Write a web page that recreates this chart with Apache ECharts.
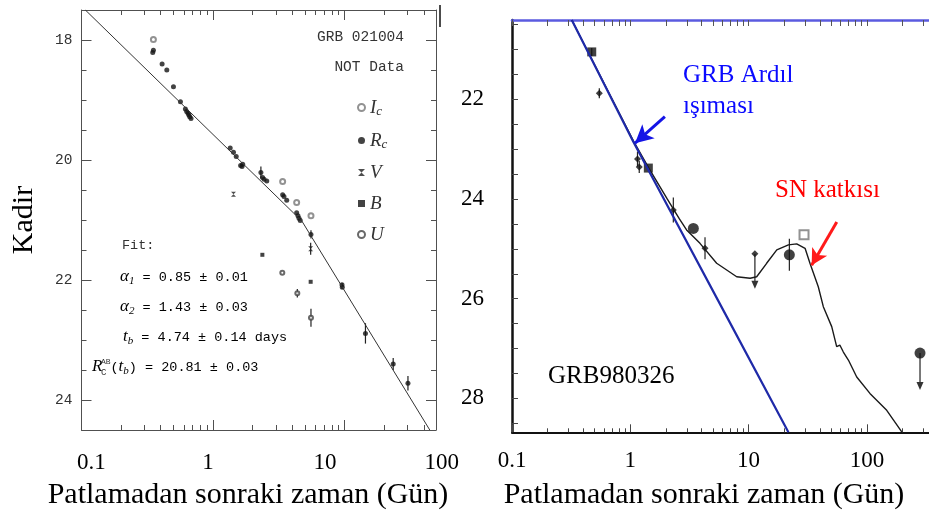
<!DOCTYPE html>
<html>
<head>
<meta charset="utf-8">
<script src="https://cdn.jsdelivr.net/npm/echarts@6/dist/echarts.min.js"></script>
<style>
  html, body { margin: 0; padding: 0; background: #fff; }
  #chart { width: 929px; height: 510px; }
</style>
</head>
<body>
<div id="chart"></div>
<script>
// ---------- GRB 021004, NOT photometry (time in days, magnitude) ----------
const rcT   = [0.348, 0.352, 0.41, 0.445, 0.50, 0.565, 0.616, 0.63, 0.645, 0.655, 0.665, 0.68,
               1.35, 1.43, 1.50, 1.62, 1.66, 1.68, 2.31, 2.38, 2.44, 2.56, 3.38, 3.46, 3.63,
               4.32, 4.42, 4.50, 4.60, 5.55, 9.55, 9.60, 14.4, 23.4, 30.3];
const rcMag = [18.21, 18.17, 18.40, 18.50, 18.78, 19.03, 19.15, 19.19, 19.22, 19.25, 19.28, 19.31,
               19.80, 19.87, 19.94, 20.09, 20.11, 20.07, 20.21, 20.29, 20.32, 20.35, 20.58, 20.61, 20.67,
               20.88, 20.93, 20.97, 21.01, 21.24, 22.08, 22.12, 22.89, 23.40, 23.72];
const icT   = [0.352, 3.38, 4.32, 5.55];
const icMag = [17.99, 20.36, 20.71, 20.93];
const vT    = [1.43, 5.52];
const vMag  = [20.57, 21.48];
const bT    = [2.37, 5.52];
const bMag  = [21.58, 22.03];
const uT    = [3.36, 4.37, 5.55];
const uMag  = [21.88, 22.22, 22.63];
// vertical error bars: time, magnitude, half-length
const errT021   = [2.31, 5.55, 5.52, 4.37, 5.55, 9.57, 14.4, 23.4, 30.3];
const errMag021 = [20.21, 21.24, 21.48, 22.22, 22.63, 22.10, 22.89, 23.40, 23.72];
const errLen021 = [0.10, 0.07, 0.10, 0.07, 0.15, 0.05, 0.17, 0.10, 0.12];
// broken power-law fit
const fitT   = [0.107, 4.74, 44.4];
const fitMag = [17.5, 21.02, 24.5];

// ---------- GRB 980326 ----------
const afterglowT   = [0.32, 1.06, 6.53, 21.7];
const afterglowMag = [20.41, 22.85, 26.36, 28.68];
const totalT   = [0.32, 1.07, 1.45, 2.05, 2.6, 2.99, 3.88, 5.37, 7.93, 10.3, 11.7, 14.2, 17.3, 21.7,
                  25.5, 30.0, 33.0, 38.8, 42.8, 50.4, 55.5, 59.0, 63.2, 69.7, 82, 106, 147, 197];
const totalMag = [20.41, 22.85, 23.40, 24.00, 24.40, 24.62, 24.89, 25.29, 25.56, 25.59, 25.56, 25.29, 25.02, 24.92,
                  24.90, 24.99, 25.29, 25.76, 26.16, 26.56, 26.96, 26.93, 27.07, 27.23, 27.57, 27.90, 28.24, 28.67];
const sqT      = [0.472, 1.42];
const sqMag    = [21.05, 23.38];
const dotT     = [3.41, 22.1, 281];
const dotMag   = [24.59, 25.12, 27.09];
const smallT   = [0.547, 1.15, 1.19, 2.31, 4.28, 11.3];
const smallMag = [21.88, 23.20, 23.36, 24.22, 24.99, 25.10];
const openT    = [29.4];
const openMag  = [24.72];
const errT980   = [0.472, 0.547, 1.15, 1.19, 2.31, 4.28, 22.1];
const errMag980 = [21.05, 21.88, 23.20, 23.36, 24.22, 24.99, 25.12];
const errLen980 = [0.08, 0.10, 0.15, 0.12, 0.25, 0.22, 0.32];
const limT      = [11.3, 281];
const limMag    = [25.10, 27.09];
const limTo     = [25.80, 27.83];
// annotation arrows: [time, magnitude] of tail and head
const arrowAfterglow = [[1.96, 22.35], [1.096, 22.88]];
const arrowSN        = [[55.6, 24.46], [34.1, 25.33]];

// axis tick labels
const timeLabels = ['0.1', '1', '10', '100'];
const magLabels021 = [18, 20, 22, 24];
const magLabels980 = [22, 24, 26, 28];

const L10 = Math.log10;
const SERIF = '"Liberation Serif", "Times New Roman", serif';
const MONO = '"Liberation Mono", "Courier New", monospace';
const pts = (ts, ms) => ts.map((t, i) => [L10(t), ms[i]]);
const errPts = (ts, ms, es) => ts.map((t, i) => [L10(t), ms[i], es[i]]);

// log-decade tick positions (in log10 days)
function decadeTicks(lo, hi) {
  const minor = [], major = [];
  for (let d = -2; d <= 3; d++) {
    const base = Math.pow(10, d);
    if (base >= lo * 0.999 && base <= hi) major.push(d);
    for (let k = 2; k <= 9; k++) {
      const v = k * base;
      if (v >= lo && v <= hi) minor.push(L10(v));
    }
  }
  return { minor, major };
}
function stepValues(a, b, s) { const out = []; for (let v = a; v <= b + 1e-9; v += s) out.push(+v.toFixed(3)); return out; }

const leftTicks = decadeTicks(0.1, 49.5);
const rightTicks = decadeTicks(0.1, 348);
const LXMIN = -1, LXMAX = L10(49.5);
const RXMIN = -1, RXMAX = L10(348);

function baseAxis(extra) {
  return Object.assign({
    type: 'value',
    axisLine: { show: false, onZero: false },
    axisTick: { show: false },
    axisLabel: { show: false },
    splitLine: { show: false }
  }, extra);
}
function tickSet(values, len, color, width) {
  return { show: true, inside: true, length: len, customValues: values, lineStyle: { color: color, width: width || 1 } };
}
const GRAY = '#505050';

const xAxis = [
  // left panel, bottom frame
  baseAxis({ gridIndex: 0, position: 'bottom', min: LXMIN, max: LXMAX,
    axisLine: { show: true, onZero: false, lineStyle: { color: GRAY, width: 1 } },
    axisTick: tickSet(leftTicks.minor, 5, GRAY) }),
  baseAxis({ gridIndex: 0, position: 'bottom', min: LXMIN, max: LXMAX,
    axisTick: tickSet(leftTicks.major, 10, GRAY) }),
  // left panel, top frame
  baseAxis({ gridIndex: 0, position: 'top', min: LXMIN, max: LXMAX,
    axisLine: { show: true, onZero: false, lineStyle: { color: GRAY, width: 1 } },
    axisTick: tickSet(leftTicks.minor, 5, GRAY) }),
  baseAxis({ gridIndex: 0, position: 'top', min: LXMIN, max: LXMAX,
    axisTick: tickSet(leftTicks.major, 10, GRAY) }),
  // right panel, bottom axis with labels
  baseAxis({ gridIndex: 1, position: 'bottom', min: RXMIN, max: RXMAX,
    axisLine: { show: true, onZero: false, lineStyle: { color: '#111', width: 2 } },
    axisTick: tickSet(rightTicks.minor, 4, '#444'),
    axisLabel: { show: true, customValues: [-1, 0, 1, 2], margin: 17,
      formatter: v => timeLabels[Math.round(v) + 1],
      fontFamily: SERIF, fontSize: 23, color: '#000' },
    name: 'Patlamadan sonraki zaman (Gün)', nameLocation: 'middle', nameGap: 48,
    nameTextStyle: { fontFamily: SERIF, fontSize: 30, color: '#000', padding: [0, 35, 0, 0] } }),
  baseAxis({ gridIndex: 1, position: 'bottom', min: RXMIN, max: RXMAX,
    axisTick: tickSet(rightTicks.major, 8, '#444') }),
  // right panel, top frame
  baseAxis({ gridIndex: 1, position: 'top', min: RXMIN, max: RXMAX,
    axisLine: { show: true, onZero: false, lineStyle: { color: '#5b5be0', width: 2.5 } },
    axisTick: tickSet(rightTicks.minor.concat(rightTicks.major), 6, '#555') }),
  // left panel time labels and title
  baseAxis({ gridIndex: 2, position: 'bottom', min: -1, max: 2,
    axisLabel: { show: true, customValues: [-1, 0, 1, 2], margin: 21,
      formatter: v => timeLabels[Math.round(v) + 1],
      fontFamily: SERIF, fontSize: 23, color: '#000' },
    name: 'Patlamadan sonraki zaman (Gün)', nameLocation: 'middle', nameGap: 50,
    nameTextStyle: { fontFamily: SERIF, fontSize: 30, color: '#000', padding: [0, 37, 0, 0] } })
];

const yAxis = [
  baseAxis({ gridIndex: 0, position: 'left', inverse: true, min: 17.5, max: 24.5,
    axisLine: { show: true, onZero: false, lineStyle: { color: GRAY, width: 1 } },
    axisTick: tickSet(stepValues(18, 24, 0.5), 5, GRAY),
    axisLabel: { show: true, customValues: magLabels021, margin: 9,
      fontFamily: MONO, fontSize: 14.5, color: '#333' },
    name: 'Kadir', nameLocation: 'middle', nameGap: 42,
    nameTextStyle: { fontFamily: SERIF, fontSize: 30, color: '#000' } }),
  baseAxis({ gridIndex: 0, position: 'left', inverse: true, min: 17.5, max: 24.5,
    axisTick: tickSet(magLabels021, 10, GRAY) }),
  baseAxis({ gridIndex: 0, position: 'right', inverse: true, min: 17.5, max: 24.5,
    axisLine: { show: true, onZero: false, lineStyle: { color: GRAY, width: 1 } },
    axisTick: tickSet(stepValues(18, 24, 0.5), 5, GRAY) }),
  baseAxis({ gridIndex: 0, position: 'right', inverse: true, min: 17.5, max: 24.5,
    axisTick: tickSet(magLabels021, 10, GRAY) }),
  baseAxis({ gridIndex: 1, position: 'left', inverse: true, min: 20.41, max: 28.68,
    axisLine: { show: true, onZero: false, lineStyle: { color: '#111', width: 2.5 } },
    axisTick: tickSet(stepValues(20.5, 28.5, 0.5), 6, '#444'),
    axisLabel: { show: true, customValues: magLabels980, margin: 28,
      fontFamily: SERIF, fontSize: 23, color: '#000' } }),
  baseAxis({ gridIndex: 2, min: 0, max: 1 })
];

// vertical error bar glyph
function errorBar(params, api) {
  const x = api.value(0), y = api.value(1), e = api.value(2);
  const a = api.coord([x, y - e]), b = api.coord([x, y + e]);
  return { type: 'line', shape: { x1: a[0], y1: a[1], x2: b[0], y2: b[1] },
           style: { stroke: '#222', lineWidth: 1.2 } };
}
// upper limit: bar down to the limit with an arrow head
function upperLimit(params, api) {
  const x = api.value(0), y = api.value(1), y2 = api.value(2);
  const a = api.coord([x, y]), b = api.coord([x, y2]);
  return { type: 'group', children: [
    { type: 'line', shape: { x1: a[0], y1: a[1], x2: b[0], y2: b[1] - 4 }, style: { stroke: '#333', lineWidth: 1.3 } },
    { type: 'polygon', shape: { points: [[b[0] - 3.5, b[1] - 8], [b[0] + 3.5, b[1] - 8], [b[0], b[1]]] }, style: { fill: '#333' } }
  ] };
}

const L0 = { xAxisIndex: 0, yAxisIndex: 0 };
const R1 = { xAxisIndex: 4, yAxisIndex: 4 };

const series = [
  Object.assign({ type: 'line', name: 'Fit', data: pts(fitT, fitMag), symbol: 'none', silent: true,
    lineStyle: { color: '#333', width: 1 } }, L0),
  Object.assign({ type: 'custom', name: 'err021', renderItem: errorBar, data: errPts(errT021, errMag021, errLen021),
    encode: { x: 0, y: 1 }, silent: true }, L0),
  Object.assign({ type: 'scatter', name: 'Ic', data: pts(icT, icMag), symbol: 'emptyCircle', symbolSize: 5,
    itemStyle: { color: '#777', borderWidth: 1 } }, L0),
  Object.assign({ type: 'scatter', name: 'Rc', data: pts(rcT, rcMag), symbol: 'circle', symbolSize: 5,
    itemStyle: { color: '#141414' } }, L0),
  Object.assign({ type: 'scatter', name: 'V', data: pts(vT, vMag),
    symbol: 'path://M0,0L10,0L5,5L10,10L0,10L5,5Z', symbolSize: 5, itemStyle: { color: '#222' } }, L0),
  Object.assign({ type: 'scatter', name: 'B', data: pts(bT, bMag), symbol: 'rect', symbolSize: 4,
    itemStyle: { color: '#141414' } }, L0),
  Object.assign({ type: 'scatter', name: 'U', data: pts(uT, uMag), symbol: 'emptyCircle', symbolSize: 4,
    itemStyle: { color: '#444', borderWidth: 1 } }, L0),

  Object.assign({ type: 'line', name: 'GRB+SN', data: pts(totalT, totalMag), symbol: 'none', silent: true,
    lineStyle: { color: '#1a1a1a', width: 1.4 },
    markLine: { silent: true, symbol: ['none', 'arrow'], symbolSize: [13, 16], animation: false,
      label: { show: false },
      lineStyle: { color: '#ff1a1a', width: 3, type: 'solid' },
      data: [[{ coord: [L10(arrowSN[0][0]), arrowSN[0][1]] }, { coord: [L10(arrowSN[1][0]), arrowSN[1][1]] }]] } }, R1),
  Object.assign({ type: 'line', name: 'GRB Ardıl ışıması', data: pts(afterglowT, afterglowMag), symbol: 'none', silent: true,
    lineStyle: { color: '#1f2aa8', width: 2.2 },
    markLine: { silent: true, symbol: ['none', 'arrow'], symbolSize: [14, 18], animation: false,
      label: { show: false },
      lineStyle: { color: '#1414e6', width: 3, type: 'solid' },
      data: [[{ coord: [L10(arrowAfterglow[0][0]), arrowAfterglow[0][1]] }, { coord: [L10(arrowAfterglow[1][0]), arrowAfterglow[1][1]] }]] } }, R1),
  Object.assign({ type: 'custom', name: 'err980', renderItem: errorBar, data: errPts(errT980, errMag980, errLen980),
    encode: { x: 0, y: 1 }, silent: true }, R1),
  Object.assign({ type: 'custom', name: 'lim980', renderItem: upperLimit, data: errPts(limT, limMag, limTo),
    encode: { x: 0, y: 1 }, silent: true }, R1),
  Object.assign({ type: 'scatter', name: 'sq980', data: pts(sqT, sqMag), symbol: 'rect', symbolSize: 9,
    itemStyle: { color: '#111' } }, R1),
  Object.assign({ type: 'scatter', name: 'dot980', data: pts(dotT, dotMag), symbol: 'circle', symbolSize: 11,
    itemStyle: { color: '#111' } }, R1),
  Object.assign({ type: 'scatter', name: 'small980', data: pts(smallT, smallMag), symbol: 'diamond', symbolSize: 7,
    itemStyle: { color: '#111' } }, R1),
  Object.assign({ type: 'scatter', name: 'open980', data: pts(openT, openMag), symbol: 'emptyRect', symbolSize: 9,
    itemStyle: { color: '#777', borderWidth: 1.2 } }, R1)
];

const legendText = { Ic: '{i|I}{s|c}', Rc: '{i|R}{s|c}', V: '{i|V}', B: '{i|B}', U: '{i|U}' };

const monoRich = {
  g: { fontFamily: SERIF, fontStyle: 'italic', fontSize: 17, color: '#333' },
  s: { fontFamily: SERIF, fontStyle: 'italic', fontSize: 11, color: '#333', padding: [9, 0, 0, 0] },
  m: { fontFamily: MONO, fontSize: 13.5, color: '#333' }
};
function fitText(x, y, text) {
  return { type: 'text', x: x, y: y, silent: true,
    style: { text: text, rich: monoRich, verticalAlign: 'middle', align: 'left' } };
}
function plainText(x, y, text, font, fill, align) {
  return { type: 'text', x: x, y: y, silent: true,
    style: { text: text, font: font, fill: fill, align: align || 'left', verticalAlign: 'middle' } };
}

const graphic = [
  plainText(404, 37, 'GRB 021004', '14.5px ' + MONO, '#333', 'right'),
  plainText(404, 67, 'NOT Data', '14.5px ' + MONO, '#333', 'right'),
  plainText(122, 245, 'Fit:', '13.5px ' + MONO, '#333'),
  fitText(120, 277, '{g|α}{s|1}{m| = 0.85 ± 0.01}'),
  fitText(120, 307, '{g|α}{s|2}{m| = 1.43 ± 0.03}'),
  fitText(123, 337, '{g|t}{s|b}{m| = 4.74 ± 0.14 days}'),
  fitText(92, 367, '{g|R}{m| (}{g|t}{s|b}{m|) = 20.81 ± 0.03}'),
  plainText(101, 362, 'AB', '8px ' + MONO, '#333'),
  plainText(101, 373, 'C', '9px ' + MONO, '#333'),
  plainText(683, 75, 'GRB Ardıl', '25px ' + SERIF, '#0a0aff'),
  plainText(683, 106, 'ışıması', '25px ' + SERIF, '#0a0aff'),
  plainText(775, 190, 'SN katkısı', '25px ' + SERIF, '#ff0000'),
  plainText(548, 376, 'GRB980326', '25px ' + SERIF, '#000'),
  { type: 'line', silent: true, shape: { x1: 440, y1: 5, x2: 440, y2: 27 }, style: { stroke: '#111', lineWidth: 1.5 } }
];

const option = {
  animation: false,
  backgroundColor: '#fff',
  grid: [
    { left: 81.5, top: 10, width: 354.5, height: 420, outerBoundsMode: 'none' },
    { left: 512, top: 20, width: 419, height: 412.3, outerBoundsMode: 'none' },
    { left: 91.3, top: 10, width: 350.4, height: 420, outerBoundsMode: 'none' }
  ],
  xAxis: xAxis,
  yAxis: yAxis,
  legend: {
    data: ['Ic', 'Rc', 'V', 'B', 'U'],
    orient: 'vertical', left: 352, top: 92,
    itemWidth: 7, itemHeight: 7, itemGap: 12, selectedMode: false,
    formatter: name => legendText[name],
    textStyle: { color: '#333', rich: {
      i: { fontFamily: SERIF, fontStyle: 'italic', fontSize: 19, lineHeight: 18, color: '#333' },
      s: { fontFamily: SERIF, fontStyle: 'italic', fontSize: 13, lineHeight: 18, color: '#333', padding: [8, 0, 0, 0] }
    } }
  },
  graphic: graphic,
  series: series
};

const chart = echarts.init(document.getElementById('chart'), null, { renderer: 'canvas' });
chart.setOption(option);
</script>
</body>
</html>
